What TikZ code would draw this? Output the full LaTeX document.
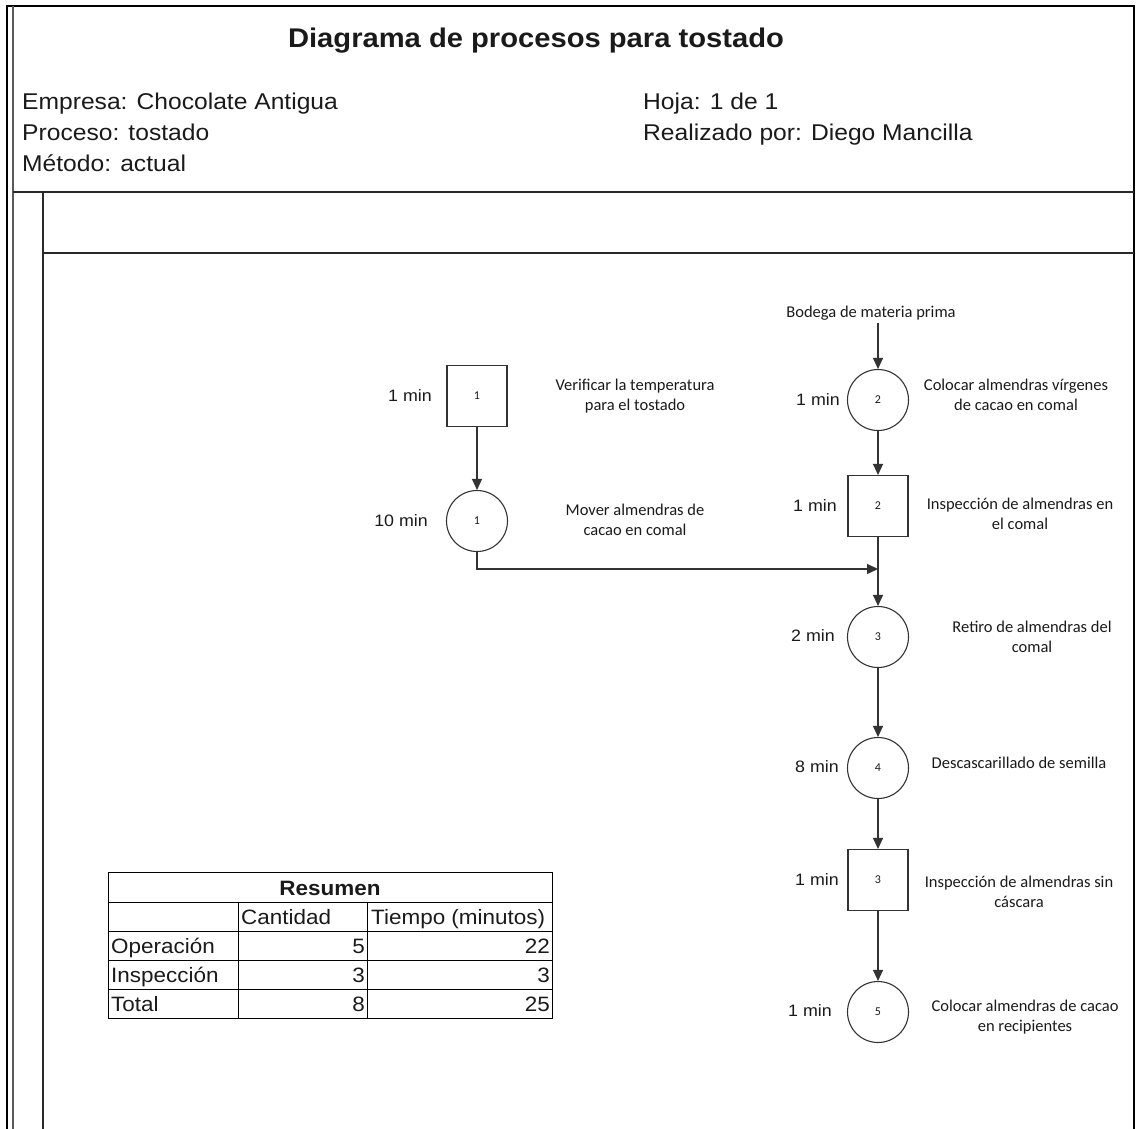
\documentclass[tikz,border=0pt]{standalone}
\usepackage{fontspec}
\usetikzlibrary{arrows.meta}
\newfontfamily\arialf[FakeStretch=1.08]{Liberation Sans}
\newfontfamily\calf{Carlito}
\definecolor{linec}{HTML}{333333}
\definecolor{inkc}{HTML}{1A1A1A}
\definecolor{framec}{HTML}{2A2A2A}

\begin{document}
\begin{tikzpicture}[x=1pt,y=-1pt,
  every node/.style={text=inkc},
  titlef/.style={font=\arialf\bfseries\fontsize{27}{32}\selectfont, anchor=base, inner sep=0pt},
  headf/.style={font=\arialf\fontsize{22.8}{26}\selectfont, anchor=base west, inner sep=0pt},
  mins/.style={font=\arialf\fontsize{16.5}{19}\selectfont, anchor=east, inner sep=0pt},
  desc/.style={font=\calf\fontsize{16.5}{20.5}\selectfont, align=center, inner sep=0pt},
  numf/.style={font=\calf\fontsize{12}{14}\selectfont},
  oper/.style={circle, draw=linec, line width=1.1pt, minimum size=61pt, inner sep=0pt, numf},
  insp/.style={rectangle, draw=linec, line width=1.1pt, minimum width=60pt, minimum height=61pt, inner sep=0pt, numf},
  flow/.style={draw=linec, line width=1.2pt, -{Triangle[length=11pt,width=10pt]}},
  rule/.style={draw=framec, line width=1.4pt},
  cell/.style={font=\arialf\fontsize{20.8}{24}\selectfont, inner sep=0pt},
  tline/.style={draw=black, line width=0.9pt}]

\useasboundingbox (0,0) rectangle (1137,1128);

% sheet frame
\draw[draw=black, line width=2pt] (7,1130) -- (7,6) -- (1134,6) -- (1134,1130);
\draw[draw=gray!70!black, line width=1.3pt] (13,6) -- (13,1130);
\draw[rule] (13,192) -- (1134,192);
\draw[rule] (43,192) -- (43,1130);
\draw[rule] (43,253) -- (1134,253);

% header
\node[titlef] (title) at (536,47) {Diagrama de procesos para tostado};
\node[headf] (empresa) at (22,109) {Empresa: Chocolate Antigua};
\node[headf] (proceso) at (22,140) {Proceso: tostado};
\node[headf] (metodo) at (22,171) {Método: actual};
\node[headf] (hoja) at (643,109) {Hoja: 1 de 1};
\node[headf] (autor) at (643,140) {Realizado por: Diego Mancilla};

% left branch
\node[insp] (i1) at (477,396) {1};
\node[oper] (o1) at (477,521) {1};
\node[mins] (t-i1) at (432,396) {1 min};
\node[mins] (t-o1) at (428,521) {10 min};
\node[desc] (d-i1) at (635,396) {Verificar la temperatura\\para el tostado};
\node[desc] (d-o1) at (635,520) {Mover almendras de\\cacao en comal};

% main branch
\node[desc] (bodega) at (871,313) {Bodega de materia prima};
\node[oper] (o2) at (878,400) {2};
\node[insp] (i2) at (878,506) {2};
\node[oper] (o3) at (878,637) {3};
\node[oper] (o4) at (878,768) {4};
\node[insp] (i3) at (878,880) {3};
\node[oper] (o5) at (878,1012) {5};

\node[mins] (t-o2) at (840,400) {1 min};
\node[mins] (t-i2) at (837,506) {1 min};
\node[mins] (t-o3) at (835,636) {2 min};
\node[mins] (t-o4) at (839,767) {8 min};
\node[mins] (t-i3) at (839,880) {1 min};
\node[mins] (t-o5) at (832,1011) {1 min};

\node[desc] (d-o2) at (1016,395) {Colocar almendras vírgenes\\de cacao en comal};
\node[desc] (d-i2) at (1020,514) {Inspección de almendras en\\el comal};
\node[desc] (d-o3) at (1032,637) {Retiro de almendras del\\comal};
\node[desc] (d-o4) at (1019,763) {Descascarillado de semilla};
\node[desc] (d-i3) at (1019,892) {Inspección de almendras sin\\cáscara};
\node[desc] (d-o5) at (1025,1017) {Colocar almendras de cacao\\en recipientes};

% connectors
\coordinate (join) at (878,569);
\draw[flow] (bodega.south -| o2.north) ++(0,3) -- (o2.north);
\draw[flow] (i1) -- (o1);
\draw[flow] (o1.south) |- (join);
\draw[flow] (o2) -- (i2);
\draw[flow] (i2) -- (o3);
\draw[flow] (o3) -- (o4);
\draw[flow] (o4) -- (i3);
\draw[flow] (i3) -- (o5);

% summary table
\draw[tline] (108,872) rectangle (552,1018);
\foreach \yy in {902,931,960,989} \draw[tline] (108,\yy) -- (552,\yy);
\foreach \xx in {238,367} \draw[tline] (\xx,902) -- (\xx,1018);

\node[cell, font=\arialf\bfseries\fontsize{20.8}{24}\selectfont, anchor=base] (resumen) at (330,895) {Resumen};
\node[cell, anchor=base west] (cantidad) at (241,924) {Cantidad};
\node[cell, anchor=base west] (tiempo) at (371,924) {Tiempo (minutos)};
\node[cell, anchor=base west] (r-op) at (111,953) {Operación};
\node[cell, anchor=base west] (r-in) at (111,982) {Inspección};
\node[cell, anchor=base west] (r-tot) at (111,1011) {Total};
\node[cell, anchor=base east] (c-op) at (365,953) {5};
\node[cell, anchor=base east] (c-in) at (365,982) {3};
\node[cell, anchor=base east] (c-tot) at (365,1011) {8};
\node[cell, anchor=base east] (m-op) at (550,953) {22};
\node[cell, anchor=base east] (m-in) at (550,982) {3};
\node[cell, anchor=base east] (m-tot) at (550,1011) {25};
\end{tikzpicture}
\end{document}
